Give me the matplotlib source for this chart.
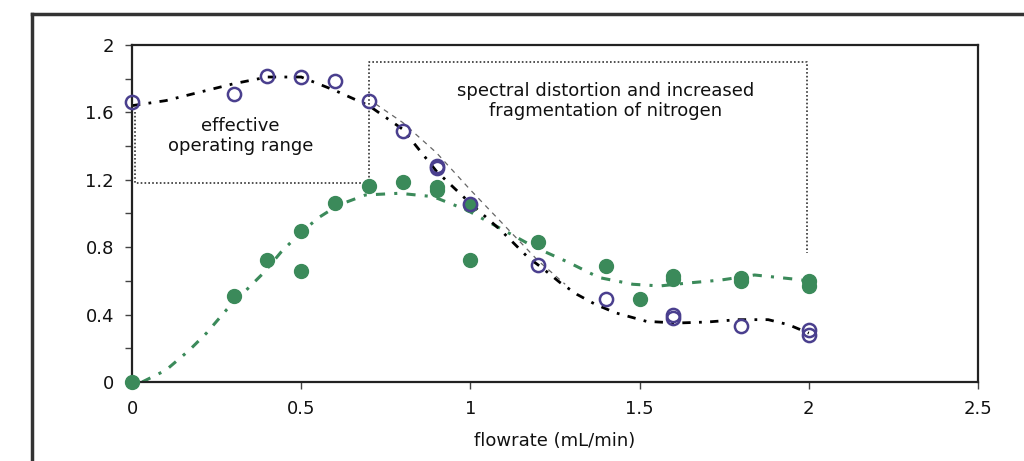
import matplotlib
matplotlib.use("Agg")
import matplotlib.pyplot as plt
from matplotlib.lines import Line2D

# ---- data ----
open_x = [0, 0.3, 0.4, 0.5, 0.6, 0.7, 0.8, 0.9, 0.9, 1.0, 1.2, 1.4, 1.6, 1.6, 1.8, 2.0, 2.0]
open_y = [1.66, 1.71, 1.815, 1.81, 1.785, 1.665, 1.49, 1.28, 1.27, 1.055, 0.695, 0.49, 0.40, 0.38, 0.33, 0.31, 0.28]

fill_x = [0, 0.3, 0.4, 0.5, 0.5, 0.6, 0.7, 0.8, 0.9, 0.9, 1.0, 1.0, 1.2, 1.4, 1.5, 1.6, 1.6, 1.8, 1.8, 2.0, 2.0]
fill_y = [0.0, 0.51, 0.725, 0.895, 0.66, 1.06, 1.165, 1.185, 1.16, 1.14, 1.05, 0.725, 0.83, 0.69, 0.49, 0.63, 0.61, 0.62, 0.60, 0.60, 0.57]

# trend curves
black_x = [0, 0.1, 0.2, 0.3, 0.4, 0.5, 0.6, 0.7, 0.8, 0.9, 1.0, 1.09, 1.17, 1.21, 1.265, 1.315,
           1.37, 1.43, 1.52, 1.61, 1.70, 1.79, 1.88, 1.94, 2.0]
black_y = [1.64, 1.67, 1.72, 1.77, 1.81, 1.81, 1.73, 1.64, 1.50, 1.25, 1.06, 0.90, 0.74, 0.68, 0.59, 0.52,
           0.46, 0.41, 0.36, 0.35, 0.356, 0.37, 0.37, 0.34, 0.29]

gray_x = [0.72, 0.8, 0.9, 1.0, 1.1, 1.2, 1.28]
gray_y = [1.65, 1.54, 1.36, 1.14, 0.93, 0.72, 0.58]

green_x = [0.03, 0.10, 0.17, 0.22, 0.28, 0.33, 0.39, 0.44, 0.50, 0.555, 0.61, 0.69, 0.79, 0.89,
           0.99, 1.09, 1.19, 1.29, 1.38, 1.48, 1.56, 1.64, 1.74, 1.84, 1.96, 2.0]
green_y = [0.0, 0.07, 0.19, 0.29, 0.43, 0.53, 0.65, 0.77, 0.89, 0.98, 1.05, 1.11, 1.12, 1.10,
           1.02, 0.91, 0.80, 0.71, 0.62, 0.58, 0.57, 0.587, 0.605, 0.635, 0.61, 0.60]

x_ticks = [0, 0.5, 1, 1.5, 2, 2.5]
x_tick_labels = ["0", "0.5", "1", "1.5", "2", "2.5"]
y_ticks = [0, 0.4, 0.8, 1.2, 1.6, 2.0]
y_tick_labels = ["0", "0.4", "0.8", "1.2", "1.6", "2"]

plt.rcParams['font.family'] = ['DejaVu Sans']

fig = plt.figure(figsize=(10.24, 4.61), dpi=100)
ax = fig.add_axes([132/1024, 1-382/461, (978-132)/1024, (382-45)/461])

navy = "#4a3f8e"
green = "#3b8a5a"

# trend lines
ax.plot(green_x, green_y, color=green, lw=2.2, ls=(0, (3, 3, 1, 3)), zorder=2)
ax.plot(black_x, black_y, color="black", lw=2.0, ls=(0, (3, 3, 1, 3)), zorder=2)
ax.plot(gray_x, gray_y, color="#666666", lw=0.9, ls=(0, (4, 4)), zorder=2)

# markers
ax.plot(fill_x, fill_y, ls="none", marker="o", ms=10, mfc=green, mec=green, zorder=3, clip_on=False)
ax.plot(open_x, open_y, ls="none", marker="o", ms=9.5, mfc="none", mec=navy, mew=1.8, zorder=4, clip_on=False)

# dotted region boxes
ax.plot([0.01, 0.01, 0.7, 0.7, 1.995, 1.995], [1.6, 1.18, 1.18, 1.9, 1.9, 0.765],
        color="#333333", lw=1.2, ls=(0, (1, 1.3)), zorder=1)

ax.text(0.32, 1.46, "effective\noperating range", ha="center", va="center",
        fontsize=13, linespacing=1.15, color="#111111")
ax.text(1.40, 1.665, "spectral distortion and increased\nfragmentation of nitrogen", ha="center",
        va="center", fontsize=13, linespacing=1.15, color="#111111")

ax.set_xlim(0, 2.5)
ax.set_ylim(0, 2)
ax.set_xticks(x_ticks)
ax.set_xticklabels(x_tick_labels)
ax.set_yticks(y_ticks)
ax.set_yticklabels(y_tick_labels)
ax.set_yticks([0.2, 0.6, 1.0, 1.4, 1.8], minor=True)
ax.tick_params(axis="both", which="both", direction="out", length=5, width=1, colors="#444444",
               labelsize=13, labelcolor="#111111", pad=8)
for s in ax.spines.values():
    s.set_linewidth(1.6)
    s.set_color("#222222")
ax.set_xlabel("flowrate (mL/min)", fontsize=13, color="#111111", labelpad=10)

# outer frame
fig.add_artist(Line2D([32/1024, 32/1024], [0, 1-14/461], transform=fig.transFigure,
                      color="#333333", lw=2.5))
fig.add_artist(Line2D([32/1024, 1.0], [1-14/461, 1-14/461], transform=fig.transFigure,
                      color="#333333", lw=2.5))

fig.savefig("out.png", dpi=100)
